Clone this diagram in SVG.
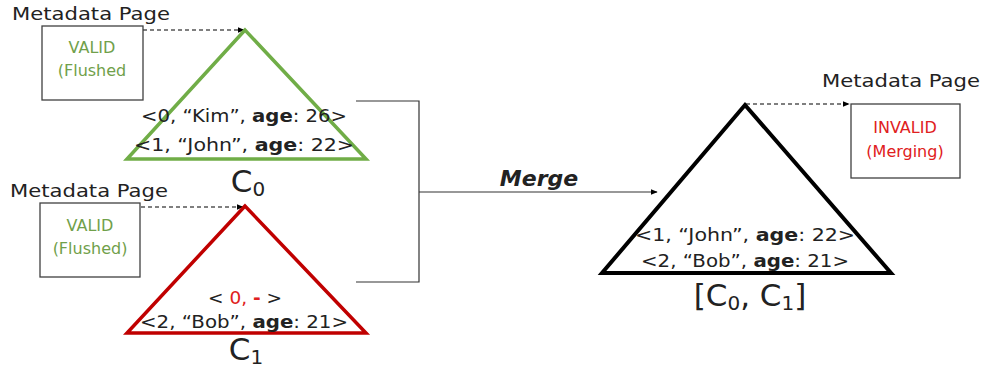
<svg xmlns="http://www.w3.org/2000/svg" width="986" height="372" viewBox="0 0 986 372">
<defs>
<marker id="ah" viewBox="0 0 10 10" refX="9" refY="5" markerWidth="7" markerHeight="7" orient="auto" markerUnits="userSpaceOnUse"><path d="M0,1 L10,5 L0,9 z" fill="#000"/></marker>
<style>
text{font-family:"DejaVu Sans","Liberation Sans",sans-serif;fill:#222}
.meta{font-size:18px}
.box{fill:#fff;stroke:#404040;stroke-width:1.3}
.st{font-size:16px;text-anchor:middle}
.g{fill:#70A04A}
.r{fill:#E02020}
.rec{font-size:18.5px;text-anchor:middle}
.lbl{font-size:31px;text-anchor:middle}
.sub{font-size:20px}
.dash{stroke:#000;stroke-width:1.2;stroke-dasharray:4 3;fill:none}
.conn{stroke:#333;stroke-width:1.2;fill:none}
</style>
</defs>
<g id="connectors">
<path class="dash" d="M143,30 H244" marker-end="url(#ah)"/>
<path class="dash" d="M141,207 H243" marker-end="url(#ah)"/>
<path class="dash" d="M746,104 H849" marker-end="url(#ah)"/>
<path class="conn" d="M356,101 H419 V282 H356"/>
<path class="conn" d="M419,192 H657" marker-end="url(#ah)"/>
<text x="539" y="186" font-size="22" font-weight="bold" font-style="italic" text-anchor="middle" fill="#000">Merge</text>
</g>
<g id="meta0">
<text class="meta" x="12" y="20" textLength="158" lengthAdjust="spacingAndGlyphs">Metadata Page</text>
<rect class="box" x="42" y="26" width="101" height="74"/>
<text class="st g" x="92" y="53">VALID</text>
<text class="st g" x="92" y="76">(Flushed</text>
</g>
<g id="c0">
<polygon points="245,30 127,159 366,159" fill="none" stroke="#70AD47" stroke-width="3.5" stroke-linejoin="miter"/>
<text class="rec" x="244" y="122" textLength="206" lengthAdjust="spacingAndGlyphs">&lt;0, “Kim”, <tspan font-weight="bold">age</tspan>: 26&gt;</text>
<text class="rec" x="244" y="151" textLength="220" lengthAdjust="spacingAndGlyphs">&lt;1, “John”, <tspan font-weight="bold">age</tspan>: 22&gt;</text>
<text class="lbl" x="248" y="192">C<tspan class="sub" dy="4">0</tspan></text>
</g>
<g id="meta1">
<text class="meta" x="10" y="197" textLength="158" lengthAdjust="spacingAndGlyphs">Metadata Page</text>
<rect class="box" x="40" y="203" width="100" height="74"/>
<text class="st g" x="90" y="231">VALID</text>
<text class="st g" x="90" y="254">(Flushed)</text>
</g>
<g id="c1">
<polygon points="245,206 127,333 366,333" fill="none" stroke="#C00000" stroke-width="3.5"/>
<text class="rec" x="245" y="304">&lt; <tspan class="r">0, <tspan font-weight="bold">-</tspan></tspan> &gt;</text>
<text class="rec" x="244" y="328" textLength="208" lengthAdjust="spacingAndGlyphs">&lt;2, “Bob”, <tspan font-weight="bold">age</tspan>: 21&gt;</text>
<text class="lbl" x="246" y="360">C<tspan class="sub" dy="4">1</tspan></text>
</g>
<g id="merged">
<polygon points="745,105 602,273 891,273" fill="none" stroke="#000" stroke-width="4"/>
<text class="rec" x="745" y="241" textLength="220" lengthAdjust="spacingAndGlyphs">&lt;1, “John”, <tspan font-weight="bold">age</tspan>: 22&gt;</text>
<text class="rec" x="745" y="267" textLength="208" lengthAdjust="spacingAndGlyphs">&lt;2, “Bob”, <tspan font-weight="bold">age</tspan>: 21&gt;</text>
<text class="lbl" x="750" y="306" font-size="32">[C<tspan class="sub" dy="4">0</tspan><tspan dy="-4">, C</tspan><tspan class="sub" dy="4">1</tspan><tspan dy="-4">]</tspan></text>
</g>
<g id="meta2">
<text class="meta" x="822" y="87" textLength="158" lengthAdjust="spacingAndGlyphs">Metadata Page</text>
<rect class="box" x="851" y="104" width="109" height="74"/>
<text class="st r" x="905" y="133">INVALID</text>
<text class="st r" x="905" y="157">(Merging)</text>
</g>
</svg>
